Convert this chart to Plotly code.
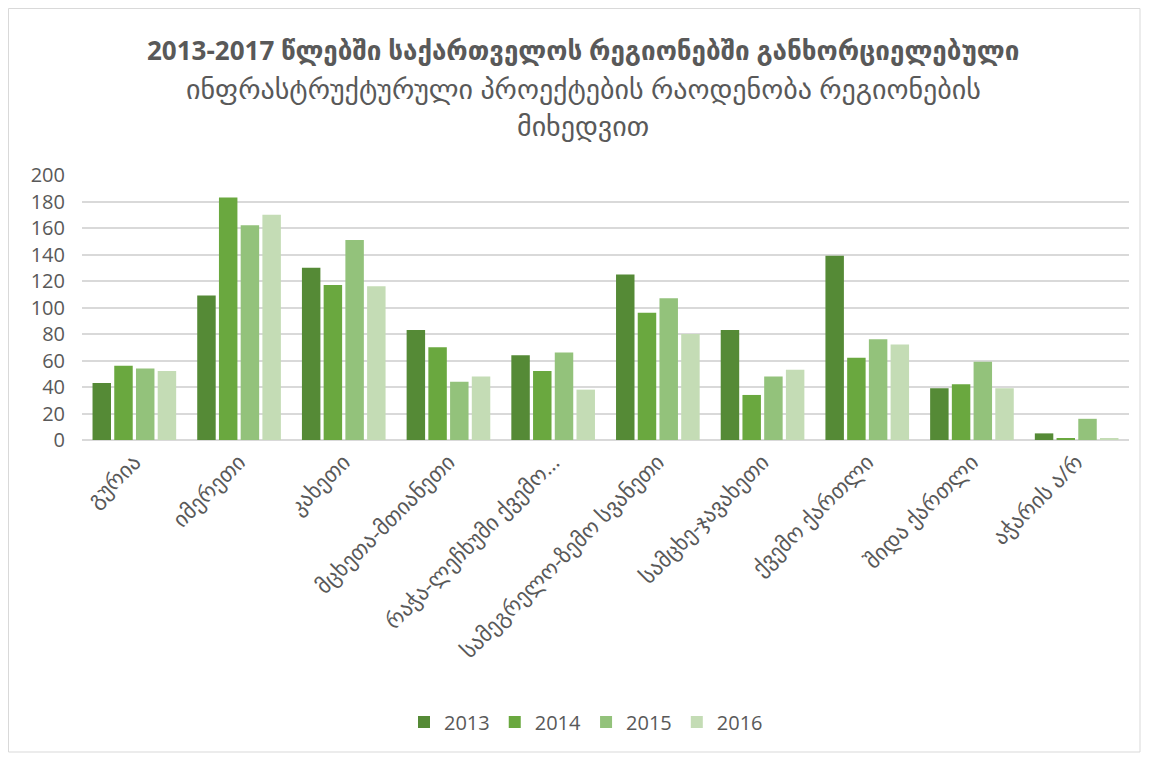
import plotly.graph_objects as go

# regions (x categories)
regions = [
    "გურია",
    "იმერეთი",
    "კახეთი",
    "მცხეთა-მთიანეთი",
    "რაჭა-ლეჩხუმი ქვემო…",
    "სამეგრელო-ზემო სვანეთი",
    "სამცხე-ჯავახეთი",
    "ქვემო ქართლი",
    "შიდა ქართლი",
    "აჭარის ა/რ",
]

# project counts by year
y2013 = [43, 109, 130, 83, 64, 125, 83, 139, 39, 5]
y2014 = [56, 183, 117, 70, 52, 96, 34, 62, 42, 1]
y2015 = [54, 162, 151, 44, 66, 107, 48, 76, 59, 16]
y2016 = [52, 170, 116, 48, 38, 80, 53, 72, 39, 1]

years = ["2013", "2014", "2015", "2016"]
colors = ["#558a36", "#6aa83f", "#93c27b", "#c4dcb5"]

title_lines = [
    "2013-2017 წლებში საქართველოს რეგიონებში განხორციელებული",
    "ინფრასტრუქტურული პროექტების რაოდენობა რეგიონების",
    "მიხედვით",
]

FONT = "Open Sans, DejaVu Sans, sans-serif"
GRAY = "#595959"
W, H = 1150, 758
OFF = 8  # page body margin: page px = figure px + OFF

# plot area in page pixels (from the reference)
PX0, PX1, PY_TOP, PY_BOT = 82, 1129, 175, 440


def px(x):
    return (x - PX0) / (PX1 - PX0)


def py(y):
    return (PY_BOT - y) / (PY_BOT - PY_TOP)


fig = go.Figure()
for name, vals, col in zip(years, [y2013, y2014, y2015, y2016], colors):
    fig.add_trace(go.Bar(
        x=regions, y=vals, name=name,
        marker=dict(color=col, line=dict(width=0)),
    ))

fig.update_layout(
    width=W, height=H,
    margin=dict(l=PX0 - OFF, r=W - (PX1 - OFF), t=PY_TOP - OFF, b=H - (PY_BOT - OFF)),
    paper_bgcolor="white", plot_bgcolor="white",
    barmode="group", bargap=0.17, bargroupgap=0.15,
    font=dict(family=FONT, color=GRAY),
    showlegend=True,
    legend=dict(
        orientation="h", x=px(586), xanchor="center", y=py(722), yanchor="middle",
        font=dict(size=20, color=GRAY), itemwidth=30,
    ),
)

fig.update_yaxes(
    range=[0, 200], dtick=20, showgrid=True, gridcolor="#d9d9d9", gridwidth=2,
    zeroline=True, zerolinecolor="#d9d9d9", zerolinewidth=2,
    tickfont=dict(size=20, color=GRAY), ticks="", showline=False, automargin=False,
    ticklabelstandoff=16,
)
fig.update_xaxes(
    tickangle=-45, tickfont=dict(size=22, color=GRAY), showline=False, ticks="",
    automargin=False, ticklabelstandoff=4,
)

# title as three centred lines
title_y = [50, 88, 125]
title_size = [26, 28, 28]
for i, (txt, ty, sz) in enumerate(zip(title_lines, title_y, title_size)):
    fig.add_annotation(
        text=f"<b>{txt}</b>" if i == 0 else txt,
        xref="paper", yref="paper",
        x=px(583), y=py(ty),
        xanchor="center", yanchor="middle", showarrow=False,
        font=dict(size=sz, color=GRAY, family=FONT),
    )

# chart frame
fig.add_shape(
    type="rect", xref="paper", yref="paper",
    x0=px(OFF + 0.5), x1=px(1140),
    y0=py(752), y1=py(OFF + 0.5),
    line=dict(color="#d9d9d9", width=1), layer="below",
)

fig.write_html("out.html")
